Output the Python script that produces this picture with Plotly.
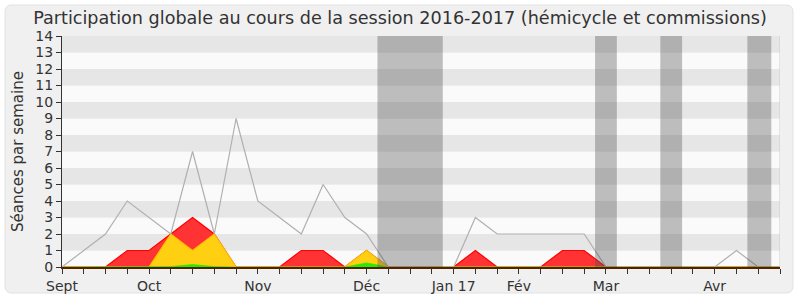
import plotly.graph_objects as go

weeks = list(range(34))
total = [0, 1, 2, 4, 3, 2, 7, 2, 9, 4, 3, 2, 5, 3, 2, 0, 0, 0, 0, 3, 2, 2, 2, 2, 2, 0, 0, 0, 0, 0, 0, 1, 0, 0]
red = [0, 0, 0, 1, 1, 2, 3, 2, 0, 0, 0, 1, 1, 0, 1, 0, 0, 0, 0, 1, 0, 0, 0, 1, 1, 0, 0, 0, 0, 0, 0, 0, 0, 0]
yellow = [0, 0, 0, 0, 0, 2, 1, 2, 0, 0, 0, 0, 0, 0, 1, 0, 0, 0, 0, 0, 0, 0, 0, 0, 0, 0, 0, 0, 0, 0, 0, 0, 0, 0]
green = [0, 0, 0, 0, 0, 0.03, 0.15, 0.03, 0, 0, 0, 0, 0, 0, 0.25, 0, 0, 0, 0, 0, 0, 0, 0, 0, 0, 0, 0, 0, 0, 0, 0, 0, 0, 0]
month_ticks = {0: "Sept", 4: "Oct", 9: "Nov", 14: "Déc", 18: "Jan 17", 21: "Fév", 25: "Mar", 30: "Avr"}
vacations = [(14.5, 17.5), (24.5, 25.5), (27.5, 28.5), (31.5, 32.6)]
y_max = 14

W, H = 800, 300
L, R, T, B = 62, 20, 36, 33
pw, ph = W - L - R, H - T - B


def px(x):
    return (x - L) / pw


def py(y):
    return (H - B - y) / ph


fig = go.Figure()
fig.add_trace(go.Scatter(x=weeks, y=red, mode="lines", fill="tozeroy",
                         line=dict(color="#ff0000", width=1.2), fillcolor="rgba(255,51,51,1)"))
fig.add_trace(go.Scatter(x=weeks, y=yellow, mode="lines", fill="tozeroy",
                         line=dict(color="#ffc000", width=1.2), fillcolor="#ffd012"))
fig.add_trace(go.Scatter(x=weeks, y=green, mode="lines", fill="tozeroy",
                         line=dict(color="#22dd00", width=0.5), fillcolor="#22ee00"))
fig.add_trace(go.Scatter(x=weeks, y=total, mode="lines",
                         line=dict(color="#b0b0b0", width=1.2)))

# rounded frame
x0, x1, y0, y1, r = 5, 793, 5, 293, 7
path = (f"M {px(x0 + r)},{py(y0)} L {px(x1 - r)},{py(y0)} Q {px(x1)},{py(y0)} {px(x1)},{py(y0 + r)} "
        f"L {px(x1)},{py(y1 - r)} Q {px(x1)},{py(y1)} {px(x1 - r)},{py(y1)} "
        f"L {px(x0 + r)},{py(y1)} Q {px(x0)},{py(y1)} {px(x0)},{py(y1 - r)} "
        f"L {px(x0)},{py(y0 + r)} Q {px(x0)},{py(y0)} {px(x0 + r)},{py(y0)} Z")
shapes = [dict(type="path", xref="paper", yref="paper", path=path,
               fillcolor="#f0f0f0", line=dict(color="#e2e2e2", width=1), layer="below")]
for k in range(0, y_max):
    shapes.append(dict(type="rect", xref="x", yref="y", x0=0, x1=33, y0=k, y1=k + 1,
                       fillcolor="#e6e6e6" if k % 2 else "#fafafa", line=dict(width=0), layer="below"))
for a, b in vacations:
    shapes.append(dict(type="rect", xref="x", yref="y", x0=a, x1=b, y0=0, y1=y_max,
                       fillcolor="rgba(80,80,80,0.36)", line=dict(width=0), layer="above"))
shapes.append(dict(type="line", xref="x", yref="y", x0=33, x1=33, y0=0, y1=y_max,
                   line=dict(color="#cccccc", width=1), layer="above"))

fig.update_layout(
    width=W, height=H,
    margin=dict(l=L, r=R, t=T, b=B),
    paper_bgcolor="#ffffff",
    plot_bgcolor="#fafafa",
    showlegend=False,
    font=dict(family="DejaVu Sans", color="#333333", size=14),
    title=dict(text="Participation globale au cours de la session 2016-2017 (hémicycle et commissions)",
               x=0.5, xanchor="center", y=1 - 18 / H, yanchor="middle",
               font=dict(size=17.6, color="#333333")),
    shapes=shapes,
    xaxis=dict(range=[0, 33], tickmode="array", tickvals=weeks,
               ticktext=[month_ticks.get(w, "") for w in weeks],
               ticks="outside", ticklen=5, tickcolor="#333333",
               showline=True, linecolor="#552200", linewidth=1.5, automargin=False,
               showgrid=False, zeroline=False, tickfont=dict(size=14)),
    yaxis=dict(range=[0, y_max], tickmode="array", tickvals=list(range(0, y_max + 1)),
               ticks="outside", ticklen=5, tickcolor="#333333",
               showline=True, linecolor="#333333", linewidth=1, automargin=False,
               showgrid=False, zeroline=False, tickfont=dict(size=14),
               title=dict(text="Séances par semaine", font=dict(size=15), standoff=8)),
)

fig.write_html("out.html")
